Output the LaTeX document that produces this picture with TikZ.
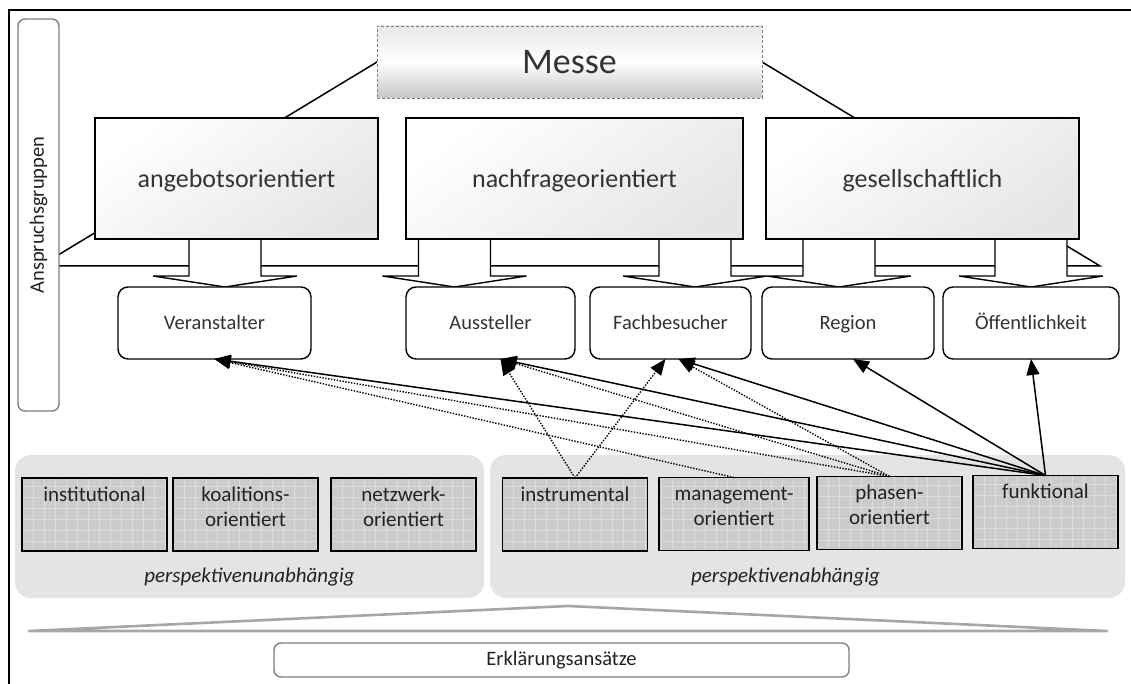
\documentclass[tikz,border=0pt]{standalone}
\usepackage{fontspec}
\setmainfont{Carlito}
\usetikzlibrary{arrows.meta,calc}
\pgfdeclarelayer{bgA}
\pgfdeclarelayer{bgB}
\pgfsetlayers{bgA,bgB,main}

\definecolor{txtdark}{HTML}{333333}
\definecolor{txtblack}{HTML}{222222}
\definecolor{panelgray}{HTML}{E4E4E6}
\definecolor{gridfill}{HTML}{CBCBCB}
\definecolor{gridline}{HTML}{DCDCDC}
\definecolor{framegray}{HTML}{7F7F7F}
\definecolor{wedgegray}{HTML}{A6A6A6}

% label of an approach box: text hangs from the top edge
\newcommand\approachtext[1]{\parbox[c][73pt][t]{145pt}{\centering\rule{0pt}{23pt}#1\par}}

\begin{document}
\begin{tikzpicture}[x=1pt,y=-1pt,
  every node/.style={inner sep=0pt, outer sep=0pt},
  messebox/.style={draw=gray, densely dashed, line width=0.6pt,
    top color=black!9, bottom color=black!22, middle color=white,
    minimum width=385pt, minimum height=72pt,
    font=\fontsize{36}{40}\selectfont, text=txtdark},
  bigbox/.style={draw=black, line width=1.8pt,
    top color=white, bottom color=black!10, shading angle=35,
    minimum height=121pt, text height=25pt, text depth=6pt,
    font=\fontsize{26}{30}\selectfont, text=txtdark},
  stakebox/.style={draw=black, line width=1.4pt, fill=white, rounded corners=10pt,
    minimum height=72pt, text height=16pt, text depth=4pt,
    font=\fontsize{20.5}{24}\selectfont, text=txtdark},
  sidebox/.style={draw=framegray, line width=1.4pt, fill=white, rounded corners=7pt,
    font=\fontsize{20.5}{24}\selectfont, text=txtblack},
  panel/.style={fill=panelgray, rounded corners=16pt, minimum height=143pt},
  paneltext/.style={font=\fontsize{21}{25}\selectfont\itshape, text=txtblack},
  gridbox/.style={draw=black, line width=1.6pt, fill=gridfill,
    minimum width=145pt, minimum height=73pt,
    font=\fontsize{21}{25}\selectfont, text=txtblack,
    path picture={\draw[gridline, line width=0.6pt]
      (path picture bounding box.south west) grid[step=11pt]
      (path picture bounding box.north east);}},
  platform/.style={draw=black, line width=1.5pt, fill=white, line join=miter},
  blockarrow/.style={draw=black, line width=1.4pt, fill=white, line join=miter},
  wedge/.style={draw=wedgegray, line width=2.6pt, line join=round},
  solcon/.style={draw=black, line width=1.5pt, -{Triangle[length=16pt,width=13pt]}},
  dotcon/.style={draw=black, line width=1.4pt, dash pattern=on 1.4pt off 1.5pt,
    -{Triangle[length=16pt,width=13pt]}}
]
\useasboundingbox (0,0) rectangle (1131,684);

% outer frame
\draw[line width=1.5pt] (9,684) -- (9,10) -- (1131,10);

% stakeholder column
\node[sidebox, rotate=90, minimum width=392pt, minimum height=41pt] (anspr) at (38.5,215) {Anspruchsgruppen};

% fair and its three perspectives
\node[messebox] (messe) at (569.5,62) {Messe};
\node[bigbox, minimum width=283pt] (ango) at (236.5,178.5) {angebotsorientiert};
\node[bigbox, minimum width=337pt] (nach) at (574.5,178.5) {nachfrageorientiert};
\node[bigbox, minimum width=313pt] (gesell) at (922.5,178.5) {gesellschaftlich};

% stakeholders
\node[stakebox, minimum width=193pt] (veran) at (214.5,323) {Veranstalter};
\node[stakebox, minimum width=169pt] (aus) at (490.5,323) {Aussteller};
\node[stakebox, minimum width=161pt] (fach) at (670.5,323) {Fachbesucher};
\node[stakebox, minimum width=172pt] (region) at (848,323) {Region};
\node[stakebox, minimum width=176pt] (oeff) at (1031,323) {Öffentlichkeit};

% platform behind the perspectives
\coordinate (platL) at (40,266);
\coordinate (platR) at (1100,266);
\begin{pgfonlayer}{bgA}
  \draw[platform] (messe.west) -- (platL) -- (platR) -- (messe.east) -- cycle;
\end{pgfonlayer}

% block arrows from the perspectives down to the stakeholders
\begin{pgfonlayer}{bgB}
  \foreach \c in {225,454.5,695,839,1031}{
    \draw[blockarrow] (\c-36,232) -- (\c-36,276) -- (\c-72,276) -- (\c,287)
      -- (\c+72,276) -- (\c+36,276) -- (\c+36,232);
  }
\end{pgfonlayer}

% explanatory approaches
\node[panel, minimum width=469pt] (pleft) at (249.5,526.5) {};
\node[panel, minimum width=635pt] (pright) at (807.5,526.5) {};
\node[paneltext, anchor=base] at ($(pleft.south)+(0,-16)$) {perspektivenunabhängig};
\node[paneltext, anchor=base] at ($(pright.south)+(-22,-16)$) {perspektivenabhängig};

\node[gridbox] (inst) at (94.5,514.5) {\approachtext{institutional}};
\node[gridbox] (koal) at (245.5,514.5) {\approachtext{koalitions-\\orientiert}};
\node[gridbox] (netz) at (403.5,514.5) {\approachtext{netzwerk-\\orientiert}};
\node[gridbox] (instr) at (575,514.5) {\approachtext{instrumental}};
\node[gridbox, minimum width=150pt] (mgmt) at (734,514) {\approachtext{management-\\orientiert}};
\node[gridbox] (phas) at (889.5,513) {\approachtext{phasen-\\orientiert}};
\node[gridbox] (funk) at (1045.5,512) {\approachtext{funktional}};

% summary wedge and caption
\draw[wedge] (29,631) -- (568,606) -- (1107,631) -- cycle;
\node[sidebox, minimum width=575pt, minimum height=34pt] (erkl) at (561.5,660) {Erklärungsansätze};

% relations between approaches and stakeholders
\draw[dotcon] (mgmt.north) -- (veran.south);
\draw[dotcon] (phas.north) -- (veran.south);
\draw[dotcon] (phas.north) -- ([xshift=10pt]aus.south);
\draw[dotcon] (phas.north) -- ([xshift=8pt]fach.south);
\draw[dotcon] (instr.north) -- ([xshift=10pt]aus.south);
\draw[dotcon] (instr.north) -- ([xshift=-5pt]fach.south);
\draw[solcon] (funk.north) -- (veran.south);
\draw[solcon] (funk.north) -- ([xshift=10pt]aus.south);
\draw[solcon] (funk.north) -- ([xshift=8pt]fach.south);
\draw[solcon] (funk.north) -- ([xshift=5pt]region.south);
\draw[solcon] (funk.north) -- (oeff.south);
\end{tikzpicture}
\end{document}
